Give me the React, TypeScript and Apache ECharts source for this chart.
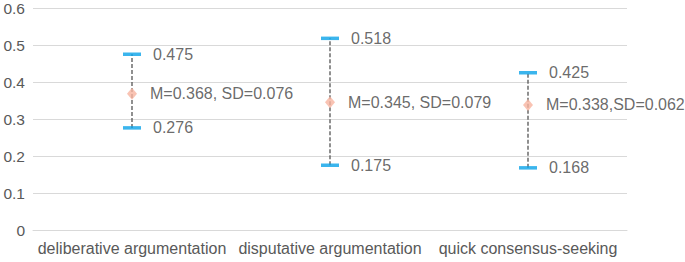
import React, { useEffect, useRef } from "react";
import * as echarts from "echarts";

const categories = ["deliberative argumentation", "disputative argumentation", "quick consensus-seeking"];
const upperValues = [0.475, 0.518, 0.425];
const lowerValues = [0.276, 0.175, 0.168];
const meanValues = [0.368, 0.345, 0.338];
const sdValues = [0.076, 0.079, 0.062];
const meanLabels = ["M=0.368, SD=0.076", "M=0.345, SD=0.079", "M=0.338,SD=0.062"];
const yTicks = [0, 0.1, 0.2, 0.3, 0.4, 0.5, 0.6];

const FONT = "'Liberation Sans', Arial, Helvetica, sans-serif";

export default function App() {
  const ref = useRef<HTMLDivElement>(null);
  useEffect(() => {
    if (!ref.current) return;
    const chart = echarts.init(ref.current, undefined, { renderer: "svg" });
    const textColor = "#444444";
    chart.setOption({
      animation: false,
      grid: { left: 33, right: 58, top: 7, bottom: 32 },
      xAxis: {
        type: "category",
        data: categories,
        axisTick: { show: false },
        axisLine: { lineStyle: { color: "#d9d9d9", width: 1 } },
        axisLabel: { color: "#595959", fontSize: 16, fontFamily: FONT, margin: 10, interval: 0 },
      },
      yAxis: {
        type: "value",
        min: yTicks[0],
        max: yTicks[yTicks.length - 1],
        interval: 0.1,
        axisLine: { show: false },
        axisTick: { show: false },
        splitLine: { lineStyle: { color: "#d9d9d9", width: 1 } },
        axisLabel: { color: "#595959", fontSize: 15.5, fontFamily: FONT, margin: 8 },
      },
      series: [
        {
          type: "custom",
          z: 1,
          data: categories.map((_, i) => [i, lowerValues[i], upperValues[i]]),
          renderItem: (params: any, api: any) => {
            const i = api.value(0);
            const lo = api.coord([i, api.value(1)]);
            const hi = api.coord([i, api.value(2)]);
            return {
              type: "line",
              shape: { x1: lo[0], y1: lo[1], x2: hi[0], y2: hi[1] },
              style: { stroke: "#555555", lineWidth: 1.3, lineDash: [4, 2] },
            };
          },
        },
        {
          type: "scatter",
          z: 3,
          symbol: "rect",
          symbolSize: [18, 3.5],
          itemStyle: { color: "#0aa2e8" },
          data: upperValues.map((v, i) => [i, v]),
          label: {
            show: true,
            position: "right",
            distance: 12,
            color: textColor,
            fontSize: 16,
            fontFamily: FONT,
            formatter: (p: any) => String(upperValues[p.dataIndex]),
          },
        },
        {
          type: "scatter",
          z: 3,
          symbol: "rect",
          symbolSize: [18, 3.5],
          itemStyle: { color: "#0aa2e8" },
          data: lowerValues.map((v, i) => [i, v]),
          label: {
            show: true,
            position: "right",
            distance: 12,
            color: textColor,
            fontSize: 16,
            fontFamily: FONT,
            formatter: (p: any) => String(lowerValues[p.dataIndex]),
          },
        },
        {
          type: "scatter",
          z: 4,
          symbol: "diamond",
          symbolSize: [10, 12],
          itemStyle: { color: "#f8b4a0" },
          data: meanValues.map((v, i) => [i, v]),
          label: {
            show: true,
            position: "right",
            distance: 13,
            color: textColor,
            fontSize: 16,
            fontFamily: FONT,
            formatter: (p: any) => meanLabels[p.dataIndex],
          },
        },
      ],
    });
    return () => chart.dispose();
  }, []);
  return <div ref={ref} style={{ width: 685, height: 262, position: "absolute", left: 0, top: 0 }} />;
}
